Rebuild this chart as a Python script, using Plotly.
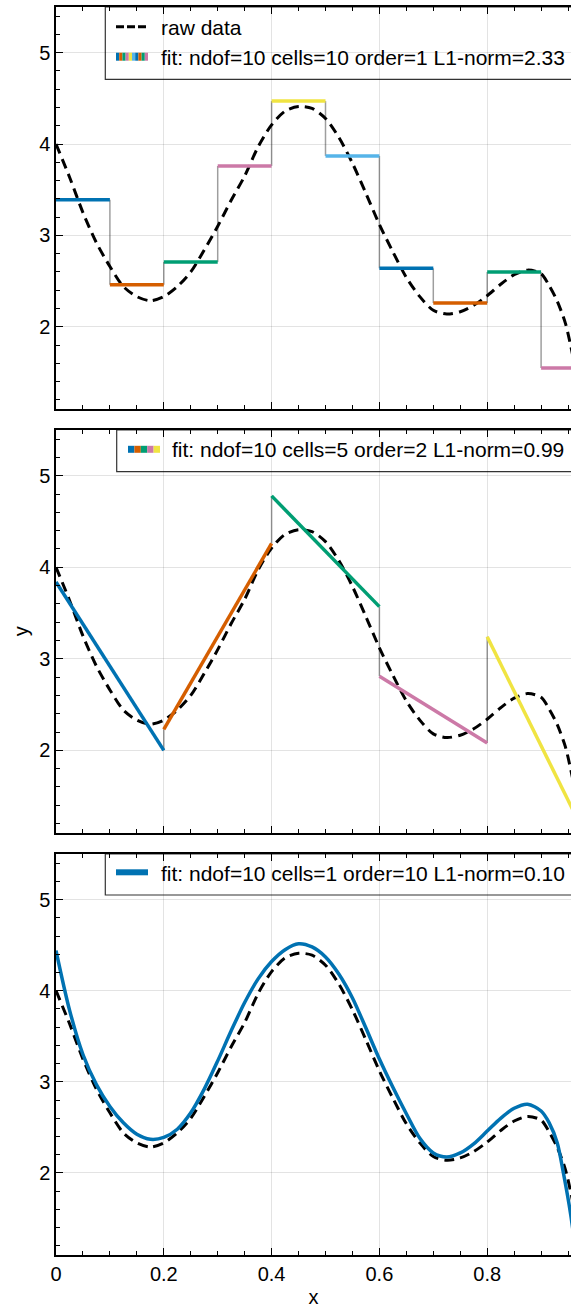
import plotly.graph_objects as go

# ---------------------------------------------------------------- data
x_raw = [0.0, 0.025, 0.05, 0.075, 0.10, 0.125, 0.15, 0.175, 0.20, 0.225,
         0.25, 0.275, 0.30, 0.325, 0.35, 0.375, 0.40, 0.425, 0.45, 0.475,
         0.50, 0.525, 0.55, 0.575, 0.60, 0.625, 0.65, 0.675, 0.70, 0.725,
         0.75, 0.775, 0.80, 0.825, 0.85, 0.875, 0.90, 0.915, 0.93, 0.945,
         0.955, 0.965]
y_raw = [4.00, 3.64, 3.25, 2.92, 2.66, 2.44, 2.33, 2.285, 2.33, 2.44,
         2.60, 2.84, 3.10, 3.385, 3.65, 3.97, 4.21, 4.36, 4.41, 4.39,
         4.28, 4.07, 3.79, 3.46, 3.12, 2.82, 2.54, 2.33, 2.18, 2.14,
         2.165, 2.235, 2.34, 2.465, 2.57, 2.62, 2.58, 2.45, 2.28, 2.04,
         1.79, 1.50]

# order-1 fit on 10 cells: one constant per cell
edges10 = [0.0, 0.1, 0.2, 0.3, 0.4, 0.5, 0.6, 0.7, 0.8, 0.9, 1.0]
step_vals = [3.39, 2.46, 2.71, 3.76, 4.47, 3.87, 2.64, 2.26, 2.60, 1.55]

# order-2 fit on 5 cells: value at the left and right edge of each cell
edges5 = [0.0, 0.2, 0.4, 0.6, 0.8, 1.0]
lin_start = [3.84, 2.23, 4.78, 2.81, 3.24]
lin_end = [2.00, 4.26, 3.57, 2.08, 0.86]

# order-10 fit on a single cell
x_poly = [0.0, 0.025, 0.05, 0.075, 0.10, 0.125, 0.15, 0.175, 0.20, 0.225,
          0.25, 0.275, 0.30, 0.325, 0.35, 0.375, 0.40, 0.425, 0.45, 0.475,
          0.50, 0.525, 0.55, 0.575, 0.60, 0.625, 0.65, 0.675, 0.70, 0.725,
          0.75, 0.775, 0.80, 0.825, 0.85, 0.875, 0.90, 0.915, 0.93, 0.942,
          0.955, 0.965]
y_poly = [4.44, 3.79, 3.30, 2.97, 2.73, 2.55, 2.425, 2.37, 2.39, 2.48,
          2.66, 2.92, 3.23, 3.56, 3.87, 4.13, 4.32, 4.45, 4.515, 4.48,
          4.37, 4.18, 3.92, 3.59, 3.25, 2.94, 2.65, 2.38, 2.22, 2.175,
          2.22, 2.32, 2.46, 2.60, 2.71, 2.755, 2.68, 2.55, 2.33, 1.98,
          1.54, 1.10]

legend_texts = [
    ["raw data", "fit: ndof=10 cells=10 order=1 L1-norm=2.33"],
    ["fit: ndof=10 cells=5 order=2 L1-norm=0.99"],
    ["fit: ndof=10 cells=1 order=10 L1-norm=0.10"],
]

palette = ["#0072B2", "#D55E00", "#009E73", "#CC79A7", "#F0E442", "#56B4E9"]

# ---------------------------------------------------------------- layout constants
W, H = 571, 1311
ML, MT, MB = 56, 7, 56
PW, PH = W - ML, H - MT - MB
BOTTOM = H - MB
FONT = "Liberation Sans"
X_MAX = PW / 539.0          # 539 px per unit of x
Y_RANGE = [1.1, 5.5]
GRID = "rgba(0,0,0,0.11)"
CONNECT = "rgba(0,0,0,0.38)"

panel_px = [(7, 409), (430, 832.7), (854, 1255)]   # top/bottom pixel rows
domains = [[(BOTTOM - b) / PH, (BOTTOM - t) / PH] for t, b in panel_px]


def fx(p):
    return (p - ML) / PW


def fy(p):
    return (BOTTOM - p) / PH


fig = go.Figure()


def raw_trace(xa, ya):
    fig.add_trace(go.Scatter(
        x=x_raw, y=y_raw, mode="lines", xaxis=xa, yaxis=ya, showlegend=False,
        line=dict(color="black", width=3, dash="10px,6px", shape="spline",
                  smoothing=0.8)))


# panel 1: piecewise constants
raw_trace("x", "y")
cx, cy = [], []
for i in range(len(step_vals) - 1):
    cx += [edges10[i + 1], edges10[i + 1], None]
    cy += [step_vals[i], step_vals[i + 1], None]
fig.add_trace(go.Scatter(x=cx, y=cy, mode="lines", xaxis="x", yaxis="y",
                         showlegend=False, line=dict(color=CONNECT, width=1.5)))
for i, v in enumerate(step_vals):
    fig.add_trace(go.Scatter(
        x=[edges10[i], edges10[i + 1]], y=[v, v], mode="lines",
        xaxis="x", yaxis="y", showlegend=False,
        line=dict(color=palette[i % len(palette)], width=3.5)))

# panel 2: piecewise linear
raw_trace("x2", "y2")
cx, cy = [], []
for i in range(len(lin_start) - 1):
    cx += [edges5[i + 1], edges5[i + 1], None]
    cy += [lin_end[i], lin_start[i + 1], None]
fig.add_trace(go.Scatter(x=cx, y=cy, mode="lines", xaxis="x2", yaxis="y2",
                         showlegend=False, line=dict(color=CONNECT, width=1.5)))
for i in range(len(lin_start)):
    fig.add_trace(go.Scatter(
        x=[edges5[i], edges5[i + 1]], y=[lin_start[i], lin_end[i]], mode="lines",
        xaxis="x2", yaxis="y2", showlegend=False,
        line=dict(color=palette[i % len(palette)], width=3.5)))

# panel 3: single high-order polynomial
raw_trace("x3", "y3")
fig.add_trace(go.Scatter(x=x_poly, y=y_poly, mode="lines", xaxis="x3", yaxis="y3",
                         showlegend=False,
                         line=dict(color=palette[0], width=3.5, shape="spline",
                                   smoothing=0.8)))

# ---------------------------------------------------------------- axes
tickfont = dict(family=FONT, size=20, color="black")
layout_axes = {}
for k in range(3):
    sx = "" if k == 0 else str(k + 1)
    layout_axes["xaxis" + sx] = dict(
        domain=[0, 1], anchor="y" + sx, range=[0, X_MAX],
        tickvals=[0, 0.2, 0.4, 0.6, 0.8], ticktext=["0", "0.2", "0.4", "0.6", "0.8"],
        showticklabels=(k == 2), ticks="inside", ticklen=7, tickwidth=1,
        tickcolor="black", showline=True, linecolor="black", linewidth=1.5,
        mirror="ticks", showgrid=True, gridcolor=GRID, gridwidth=1,
        zeroline=False, tickfont=tickfont,
        minor=dict(dtick=0.05, tick0=0, ticks="inside", ticklen=4,
                   tickcolor="black", showgrid=False),
        title=dict(text="x" if k == 2 else "", font=tickfont, standoff=6),
    )
    layout_axes["yaxis" + sx] = dict(
        domain=domains[k], anchor="x" + sx, range=Y_RANGE,
        tickvals=[2, 3, 4, 5], ticks="inside", ticklen=7, tickwidth=1,
        tickcolor="black", showline=True, linecolor="black", linewidth=1.5,
        mirror=False, showgrid=True, gridcolor=GRID, gridwidth=1,
        zeroline=False, tickfont=tickfont,
        minor=dict(dtick=0.2, tick0=0, ticks="inside", ticklen=4,
                   tickcolor="black", showgrid=False),
        title=dict(text="y" if k == 1 else "", font=tickfont, standoff=5),
    )
    # right-hand tick marks
    layout_axes["yaxis" + str(k + 4)] = dict(
        overlaying="y" + sx, anchor="x" + sx, side="right", range=Y_RANGE,
        tickvals=[2, 3, 4, 5], ticks="inside", ticklen=2, tickcolor="black",
        showticklabels=False, showline=False, showgrid=False, zeroline=False)

fig.update_layout(**layout_axes)

# ---------------------------------------------------------------- legends
shapes, annotations = [], []
text_font = dict(family=FONT, size=21, color="black")


def box(x0, y0, y1):
    shapes.append(dict(type="rect", xref="paper", yref="paper", layer="below",
                       x0=fx(x0), x1=fx(600), y0=fy(y1), y1=fy(y0),
                       fillcolor="white", line=dict(color="#333333", width=1.2)))


def label(x, y, text):
    annotations.append(dict(xref="paper", yref="paper", x=fx(x), y=fy(y),
                            xanchor="left", yanchor="middle", showarrow=False,
                            text=text, font=text_font))


def stripes(x0, x1, yc, h, n):
    w = (x1 - x0) / n
    for i in range(n):
        shapes.append(dict(type="rect", xref="paper", yref="paper",
                           x0=fx(x0 + i * w), x1=fx(x0 + (i + 1) * w),
                           y0=fy(yc + h / 2), y1=fy(yc - h / 2),
                           fillcolor=palette[i % len(palette)], line=dict(width=0)))


# panel 1
box(105.3, 7, 79.3)
shapes.append(dict(type="line", xref="paper", yref="paper", x0=fx(116), x1=fx(148),
                   y0=fy(26.7), y1=fy(26.7),
                   line=dict(color="black", width=3, dash="8px,3px")))
label(158.7, 27.5, legend_texts[0][0])
stripes(116, 148, 56.7, 8, len(step_vals))
label(158.7, 57.5, legend_texts[0][1])

# panel 2
box(116.7, 430, 471.7)
stripes(128, 160, 449.3, 7, len(lin_start))
label(170, 450, legend_texts[1][0])

# panel 3
box(105.3, 854, 895)
shapes.append(dict(type="line", xref="paper", yref="paper", x0=fx(116), x1=fx(148),
                   y0=fy(872.3), y1=fy(872.3),
                   line=dict(color=palette[0], width=6)))
label(158.7, 873, legend_texts[2][0])

fig.update_layout(
    width=W, height=H,
    margin=dict(l=ML, r=0, t=MT, b=MB, autoexpand=False),
    paper_bgcolor="white", plot_bgcolor="white",
    showlegend=False, shapes=shapes, annotations=annotations,
    font=dict(family=FONT, color="black"),
)

fig.write_html("out.html")
